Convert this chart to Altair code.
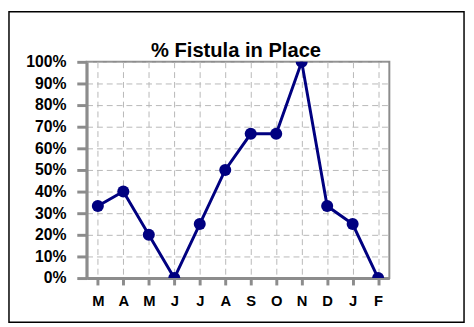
import json
import altair as alt
import pandas as pd

months = ["M", "A", "M", "J", "J", "A", "S", "O", "N", "D", "J", "F"]
values = [0.333, 0.40, 0.20, 0.0, 0.25, 0.50, 0.667, 0.667, 1.0, 0.333, 0.25, 0.0]
y_ticks = [0.0, 0.1, 0.2, 0.3, 0.4, 0.5, 0.6, 0.7, 0.8, 0.9, 1.0]
title_text = "% Fistula in Place"

df = pd.DataFrame({"idx": list(range(len(months))), "month": months, "v": values})

FONT = "Liberation Sans"
NAVY = "#000080"
GRID = "#b8b8b8"
AXIS = "#8c8c8c"

label_expr = json.dumps(months) + "[datum.value]"

x_enc = alt.X(
    "idx:O",
    scale=alt.Scale(type="point", padding=0.44),
    axis=alt.Axis(
        title=None, labelExpr=label_expr, labelAngle=0, labelOverlap=False,
        grid=True, gridDash=[6, 4], gridColor=GRID, gridWidth=1,
        domainColor=AXIS, domainWidth=3, tickColor=AXIS, tickWidth=3, tickSize=7,
        labelPadding=9, labelFontSize=15, labelFontWeight="bold", labelFont=FONT,
        labelColor="black",
    ),
)
y_enc = alt.Y(
    "v:Q",
    scale=alt.Scale(domain=[0, 1], nice=False),
    axis=alt.Axis(
        title=None, values=y_ticks, format=".0%", labelOverlap=False,
        tickCount=11,
        grid=True, gridDash=[6, 4], gridColor=GRID, gridWidth=1,
        domainColor=AXIS, domainWidth=3, tickColor=AXIS, tickWidth=3, tickSize=10,
        labelPadding=11, labelFontSize=16, labelFontWeight="bold", labelFont=FONT,
        labelColor="black",
    ),
)

base = alt.Chart(df).encode(x=x_enc, y=y_enc)
line = base.mark_line(color=NAVY, strokeWidth=3, clip=True)
points = base.mark_point(filled=True, color=NAVY, size=150, opacity=1, clip=True)

one = pd.DataFrame({"t": [title_text]})
frame = alt.Chart(one).mark_rect(filled=False, stroke="black", strokeWidth=1.5).encode(
    x=alt.value(-79), x2=alt.value(384), y=alt.value(-51), y2=alt.value(265)
)
title = alt.Chart(one).mark_text(
    font=FONT, fontSize=20.5, fontWeight="bold", color="black",
    align="center", baseline="alphabetic",
).encode(text="t:N", x=alt.value(152), y=alt.value(-4.5))

chart = (
    alt.layer(line, points, frame, title)
    .properties(
        width=308, height=220,
        autosize=alt.AutoSizeParams(type="none"),
        padding={"left": 80, "top": 52, "right": 78, "bottom": 47},
        background="white",
    )
    .configure_view(stroke=AXIS, strokeWidth=2)
)

chart.save("out.html", embed_options={"renderer": "svg", "actions": False})
